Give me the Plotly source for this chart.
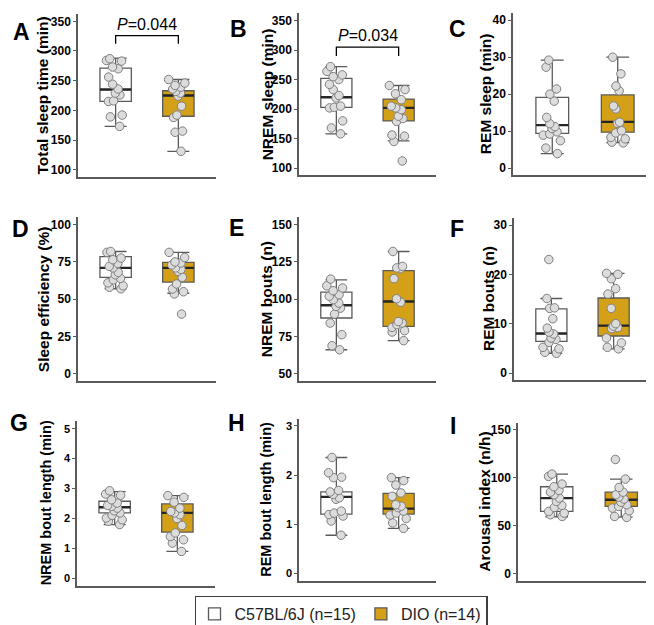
import plotly.graph_objects as go

FONT = "Arial, Liberation Sans, sans-serif"

GROUPS = ["C57BL/6J (n=15)", "DIO (n=14)"]
GROUP_FILL = ["#FFFFFF", "#D4A017"]

# Values. *_BOX = [q1, median, q3, lower whisker, upper whisker]
A_B6 = [287, 284, 283, 273, 270, 256, 244, 236, 229, 226, 216, 215, 192, 189, 173]
A_DIO = [252, 246, 242, 239, 236, 232, 229, 224, 207, 192, 188, 165, 163, 131]
A_B6_BOX = [215, 235, 271, 173, 288]
A_DIO_BOX = [190, 225, 233, 131, 252]

B_B6 = [272, 264, 258, 255, 250, 242, 233, 223, 219, 205, 203, 202, 180, 168, 158]
B_DIO = [240, 233, 226, 216, 205, 202, 199, 188, 184, 179, 156, 154, 145, 112]
B_B6_BOX = [203, 220, 252, 158, 272]
B_DIO_BOX = [180, 202, 217, 146, 240]

C_B6 = [29.2, 27.3, 21.4, 20.0, 18.1, 13.7, 12.0, 11.2, 10.7, 9.8, 9.2, 8.9, 7.4, 5.4, 3.9]
C_DIO = [30.0, 25.5, 22.2, 20.9, 16.8, 16.0, 12.4, 12.1, 10.1, 9.5, 8.3, 7.9, 7.0, 6.8]
C_B6_BOX = [9.4, 11.6, 19.1, 3.9, 29.2]
C_DIO_BOX = [9.7, 12.5, 19.8, 6.9, 30.0]

D_B6 = [82, 81.4, 77.6, 76.5, 74, 72, 71, 68, 66.4, 64, 63, 61, 59, 58, 57]
D_DIO = [81.4, 78, 75, 74.3, 73, 71, 70, 68.7, 64.7, 60.2, 56.8, 55, 53.5, 40]
D_B6_BOX = [64.7, 71, 78.5, 57, 82]
D_DIO_BOX = [61.5, 71, 74.7, 54, 81.4]

E_B6 = [113.5, 109, 107.5, 105.7, 103, 102, 99.7, 97.4, 95.2, 94, 90, 84, 76.2, 68.8, 66.1]
E_DIO = [132, 122, 121, 120.5, 113.8, 100.3, 98, 85, 84, 82.9, 81.1, 78.9, 78, 72.2]
E_B6_BOX = [87.4, 95.9, 104.8, 66.1, 113]
E_DIO_BOX = [81.8, 98.5, 119.1, 72.2, 132]

F_B6 = [23, 15.1, 13.2, 13.1, 11, 9.1, 8.3, 7.9, 7.1, 6.8, 6.2, 5.2, 4.9, 4.2, 4.0]
F_DIO = [20.2, 20.0, 19.1, 17.1, 16.0, 13.1, 10.0, 9.5, 9.2, 9.0, 7.1, 6.1, 5.2, 4.9]
F_B6_BOX = [6.4, 8.0, 13.0, 4.0, 15.1]
F_DIO_BOX = [7.5, 9.6, 15.2, 4.9, 20.2]

G_B6 = [2.92, 2.81, 2.77, 2.62, 2.51, 2.43, 2.40, 2.34, 2.25, 2.18, 2.10, 2.01, 1.95, 1.90, 1.79]
G_DIO = [2.76, 2.70, 2.54, 2.34, 2.23, 2.18, 2.12, 1.99, 1.76, 1.51, 1.39, 1.28, 1.17, 0.89]
G_B6_BOX = [2.18, 2.37, 2.57, 1.79, 2.89]
G_DIO_BOX = [1.54, 2.18, 2.48, 0.89, 2.76]

H_B6 = [2.36, 2.05, 1.96, 1.95, 1.69, 1.66, 1.61, 1.54, 1.51, 1.27, 1.23, 1.20, 1.17, 1.07, 0.78]
H_DIO = [1.95, 1.89, 1.80, 1.64, 1.57, 1.40, 1.37, 1.34, 1.27, 1.23, 1.19, 1.12, 1.03, 0.92]
H_B6_BOX = [1.21, 1.56, 1.66, 0.78, 2.36]
H_DIO_BOX = [1.21, 1.32, 1.63, 0.92, 1.95]

I_B6 = [103.8, 101.4, 93.4, 90.6, 86.8, 85, 82.3, 78.8, 75.3, 71.2, 69.1, 64.9, 63.2, 61.5, 59.7]
I_DIO = [119, 98.6, 89.9, 85, 82.3, 79.9, 77.8, 74.6, 71.9, 70.1, 68.4, 65.6, 59.7, 58.7]
I_B6_BOX = [64.9, 78.8, 90.6, 59.4, 103.8]
I_DIO_BOX = [70.1, 77.1, 85, 59, 98.6]

# significance brackets: (p label, bracket tip, bracket top, label height)
A_SIG = ("<i>P</i>=0.044", 312, 326, 344)
B_SIG = ("<i>P</i>=0.034", 290, 305, 325)

PANELS = [
    dict(letter="A", title="Total sleep time (min)", data=(A_B6, A_DIO), box=(A_B6_BOX, A_DIO_BOX), lim=(100, 350), dtick=50, sig=A_SIG),
    dict(letter="B", title="NREM sleep (min)", data=(B_B6, B_DIO), box=(B_B6_BOX, B_DIO_BOX), lim=(100, 350), dtick=50, sig=B_SIG),
    dict(letter="C", title="REM sleep (min)", data=(C_B6, C_DIO), box=(C_B6_BOX, C_DIO_BOX), lim=(0, 40), dtick=10),
    dict(letter="D", title="Sleep efficiency (%)", data=(D_B6, D_DIO), box=(D_B6_BOX, D_DIO_BOX), lim=(0, 100), dtick=25),
    dict(letter="E", title="NREM bouts (n)", data=(E_B6, E_DIO), box=(E_B6_BOX, E_DIO_BOX), lim=(50, 150), dtick=25),
    dict(letter="F", title="REM bouts (n)", data=(F_B6, F_DIO), box=(F_B6_BOX, F_DIO_BOX), lim=(0, 30), dtick=10),
    dict(letter="G", title="NREM bout length (min)", data=(G_B6, G_DIO), box=(G_B6_BOX, G_DIO_BOX), lim=(0, 5), dtick=1),
    dict(letter="H", title="REM bout length (min)", data=(H_B6, H_DIO), box=(H_B6_BOX, H_DIO_BOX), lim=(0, 3), dtick=1),
    dict(letter="I", title="Arousal index (n/h)", data=(I_B6, I_DIO), box=(I_B6_BOX, I_DIO_BOX), lim=(0, 150), dtick=50),
]

# pixel placement of each panel: x span, y span (top, bottom), title x, letter centre, font sizes
W, H = 654, 625
POS = {
    "A": dict(x=(70, 208), y=(5.9, 169.1), tx=34, lt=(13, 24), tf=15.5, kf=12),
    "B": dict(x=(291, 428), y=(5.3, 167.4), tx=259, lt=(230, 21), tf=15.5, kf=12),
    "C": dict(x=(505, 649), y=(4.9, 167.4), tx=477, lt=(449, 21), tf=15.5, kf=12),
    "D": dict(x=(70, 208), y=(209.2, 373.2), tx=35, lt=(12, 221), tf=15.5, kf=12),
    "E": dict(x=(291, 428), y=(209.2, 373.2), tx=258, lt=(229, 220), tf=15.5, kf=12),
    "F": dict(x=(506, 643), y=(209.6, 372.4), tx=480, lt=(449, 221), tf=15.5, kf=12),
    "G": dict(x=(69, 207), y=(413.2, 577.5), tx=38, lt=(11, 415), tf=14.5, kf=11),
    "H": dict(x=(291, 428), y=(410.6, 573), tx=258, lt=(229, 415), tf=14.5, kf=11),
    "I": dict(x=(510, 652), y=(414.5, 573), tx=477, lt=(445, 418), tf=15.5, kf=12),
}

BOX_W = 0.5
BOX_LINE = "#5A5A5A"
MEDIAN_LINE = "#262626"


def px_x(v):
    return v / W


def px_y(v):
    return 1 - v / H


fig = go.Figure()
layout = {}
annotations = []

for i, p in enumerate(PANELS):
    n = i + 1
    xa, ya = f"x{n}", f"y{n}"
    pos = POS[p["letter"]]
    lo, hi = p["lim"]
    pad = 0.05 * (hi - lo)

    for g in range(2):
        xpos = g + 1
        q1, med, q3, wlo, whi = p["box"][g]
        fig.add_trace(go.Box(
            x=[xpos], q1=[q1], median=[med], q3=[q3], lowerfence=[wlo], upperfence=[whi],
            width=BOX_W, whiskerwidth=0.7, fillcolor=GROUP_FILL[g],
            line=dict(color=BOX_LINE, width=1.3), boxpoints=False,
            name=GROUPS[g], legendgroup=GROUPS[g], showlegend=(i == 0),
            hoverinfo="skip", xaxis=xa, yaxis=ya,
        ))
        # thicker median line
        fig.add_trace(go.Box(
            x=[xpos], q1=[med], median=[med], q3=[med], lowerfence=[med], upperfence=[med],
            width=BOX_W, whiskerwidth=0, fillcolor="rgba(0,0,0,0)",
            line=dict(color=MEDIAN_LINE, width=2.4), boxpoints=False,
            showlegend=False, hoverinfo="skip", xaxis=xa, yaxis=ya,
        ))

    for g in range(2):
        vals = p["data"][g]
        fig.add_trace(go.Box(
            x=[g + 1] * len(vals), y=vals, boxpoints="all", jitter=0.65, pointpos=0,
            width=BOX_W, fillcolor="rgba(0,0,0,0)",
            line=dict(color="rgba(0,0,0,0)", width=0),
            marker=dict(size=8.5, color="#DCDCDC", line=dict(color="#7F7F7F", width=1)),
            showlegend=False, hoverinfo="skip", xaxis=xa, yaxis=ya,
        ))

    if "sig" in p:
        label, tip, top, ty = p["sig"]
        fig.add_trace(go.Scatter(
            x=[1, 1, 2, 2], y=[tip, top, top, tip], mode="lines",
            line=dict(color="black", width=1.3), showlegend=False,
            hoverinfo="skip", xaxis=xa, yaxis=ya,
        ))
        annotations.append(dict(
            x=1.5, y=ty, xref=xa, yref=ya, text=label, showarrow=False,
            font=dict(size=16, family=FONT, color="black"),
            xanchor="center", yanchor="middle",
        ))

    layout[f"xaxis{n}"] = dict(
        domain=[px_x(pos["x"][0]), px_x(pos["x"][1])], anchor=ya,
        range=[0.4, 2.6], showticklabels=False, ticks="", showgrid=False,
        zeroline=False, showline=True, linecolor=BOX_LINE, linewidth=1.5,
    )
    layout[f"yaxis{n}"] = dict(
        domain=[px_y(pos["y"][1]), px_y(pos["y"][0])], anchor=xa,
        range=[lo - pad, hi + pad], tick0=0, dtick=p["dtick"],
        showgrid=False, zeroline=False, showline=True, linecolor=BOX_LINE, linewidth=1.5,
        ticks="outside", ticklen=3, tickcolor=BOX_LINE,
        tickfont=dict(size=pos["kf"], family=FONT, color="black", weight="bold"),
    )

    # axis title
    annotations.append(dict(
        x=px_x(pos["tx"]), y=px_y((pos["y"][0] + pos["y"][1]) / 2),
        xref="paper", yref="paper", text=p["title"], textangle=-90, showarrow=False,
        font=dict(size=pos["tf"], family=FONT, color="black", weight="bold"),
        xanchor="center", yanchor="middle",
    ))
    # panel letter
    annotations.append(dict(
        x=px_x(pos["lt"][0]), y=px_y(pos["lt"][1]),
        xref="paper", yref="paper", text=p["letter"], showarrow=False,
        font=dict(size=23, family=FONT, color="black", weight="bold"),
        xanchor="center", yanchor="middle",
    ))

fig.update_layout(
    **layout,
    annotations=annotations,
    boxmode="overlay",
    width=W,
    height=H,
    margin=dict(l=0, r=0, t=0, b=0),
    paper_bgcolor="white",
    plot_bgcolor="white",
    legend=dict(
        orientation="h", x=px_x(333), y=px_y(606), xanchor="center", yanchor="middle",
        bordercolor="#404040", borderwidth=1.5, bgcolor="white",
        font=dict(size=16, family=FONT, color="#222222"),
    ),
)

fig.write_html("out.html")
